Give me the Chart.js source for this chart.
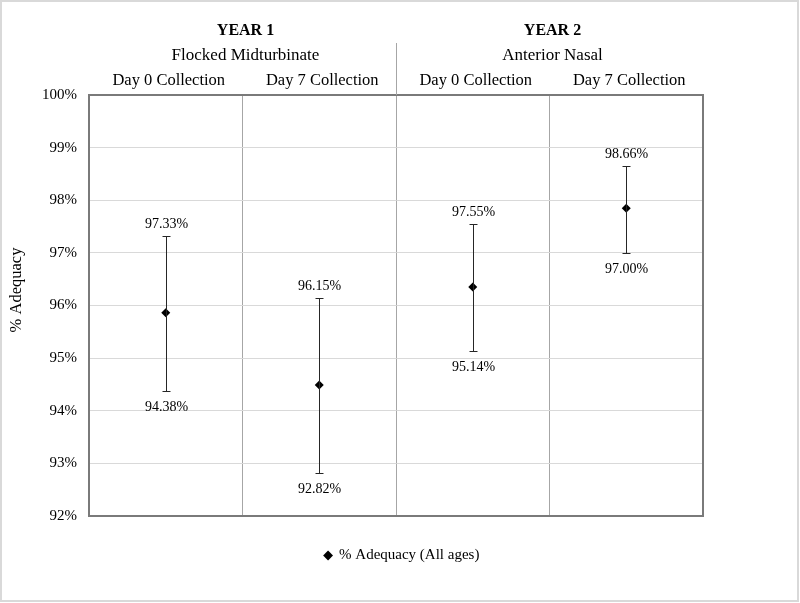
<!DOCTYPE html>
<html><head><meta charset="utf-8">
<script src="https://cdn.jsdelivr.net/npm/chart.js@4/dist/chart.umd.min.js"></script>
<style>html,body{margin:0;padding:0;background:#fff}#wrap{width:800px;height:603px;position:relative}</style>
</head><body><div id="wrap"><canvas id="c"></canvas></div>
<script>
const groups = ['YEAR 1', 'YEAR 2'];
const groupSubtitles = ['Flocked Midturbinate', 'Anterior Nasal'];
const categories = ['Day 0 Collection', 'Day 7 Collection', 'Day 0 Collection', 'Day 7 Collection'];
const adequacy = [95.86, 94.49, 96.35, 97.85];
const upperCI = [97.33, 96.15, 97.55, 98.66];
const lowerCI = [94.38, 92.82, 95.14, 97.00];
const yTicks = [92, 93, 94, 95, 96, 97, 98, 99, 100];
const seriesName = '% Adequacy (All ages)';
const yTitle = '% Adequacy';

const SERIF = '"Liberation Serif", "Times New Roman", serif';

const overlay = {
  id: 'overlay',
  afterLayout(chart) {
    if (chart.legend) { chart.legend.left += 101; }
  },
  beforeDraw(chart) {
    const ctx = chart.ctx;
    ctx.save();
    ctx.fillStyle = '#fff';
    ctx.fillRect(0, 0, chart.width, chart.height);
    ctx.restore();
  },
  afterDatasetsDraw(chart) {
    const ctx = chart.ctx, xs = chart.scales.x, ys = chart.scales.y;
    ctx.save();
    ctx.strokeStyle = '#262626';
    ctx.lineWidth = 1;
    ctx.fillStyle = '#000';
    ctx.font = '14px ' + SERIF;
    ctx.textAlign = 'center';
    ctx.textBaseline = 'middle';
    adequacy.forEach((v, i) => {
      const x = Math.round(xs.getPixelForValue(i + 0.5)) + 0.5;
      const yt = Math.round(ys.getPixelForValue(upperCI[i])) + 0.5;
      const yb = Math.round(ys.getPixelForValue(lowerCI[i])) + 0.5;
      ctx.beginPath();
      ctx.moveTo(x, yt); ctx.lineTo(x, yb);
      ctx.moveTo(x - 4, yt); ctx.lineTo(x + 4, yt);
      ctx.moveTo(x - 4, yb); ctx.lineTo(x + 4, yb);
      ctx.stroke();
      ctx.fillText(upperCI[i].toFixed(2) + '%', x, yt - 12);
      ctx.fillText(lowerCI[i].toFixed(2) + '%', x, yb + 16);
    });
    ctx.restore();
  },
  afterDraw(chart) {
    const ctx = chart.ctx, xs = chart.scales.x, ys = chart.scales.y, a = chart.chartArea;
    ctx.save();
    // plot frame
    ctx.strokeStyle = '#7a7a7a';
    ctx.lineWidth = 2;
    ctx.strokeRect(a.left, a.top, a.right - a.left, a.bottom - a.top);
    // group divider extending above plot
    const xm = Math.round(xs.getPixelForValue(2)) + 0.5;
    ctx.strokeStyle = '#a6a6a6';
    ctx.lineWidth = 1;
    ctx.beginPath(); ctx.moveTo(xm, 43); ctx.lineTo(xm, a.top); ctx.stroke();
    // headers
    ctx.fillStyle = '#000';
    ctx.textAlign = 'center';
    ctx.textBaseline = 'middle';
    groups.forEach((g, gi) => {
      const cx = (xs.getPixelForValue(gi * 2) + xs.getPixelForValue(gi * 2 + 2)) / 2 + 3;
      ctx.font = 'bold 16px ' + SERIF;
      ctx.fillText(g, cx, 31);
      ctx.font = '17px ' + SERIF;
      ctx.fillText(groupSubtitles[gi], cx, 56);
    });
    ctx.font = '16.5px ' + SERIF;
    categories.forEach((c, i) => {
      ctx.fillText(c, xs.getPixelForValue(i + 0.5) + 3, 81);
    });
    // y title
    ctx.save();
    ctx.translate(17, 290);
    ctx.rotate(-Math.PI / 2);
    ctx.font = '16.5px ' + SERIF;
    ctx.fillText(yTitle, 0, 0);
    ctx.restore();
    // outer border
    ctx.strokeStyle = '#d9d9d9';
    ctx.lineWidth = 2;
    ctx.strokeRect(1, 1, chart.width - 3, chart.height - 3);
    ctx.restore();
  }
};

new Chart(document.getElementById('c'), {
  type: 'line',
  data: {
    datasets: [{
      label: seriesName,
      data: adequacy.map((v, i) => ({ x: i + 0.5, y: v })),
      showLine: false,
      pointStyle: 'rectRot',
      pointRadius: 4.5,
      pointHoverRadius: 4.5,
      backgroundColor: '#000',
      borderColor: '#000',
      borderWidth: 0
    }]
  },
  options: {
    responsive: true,
    maintainAspectRatio: false,
    animation: false,
    devicePixelRatio: 1,
    layout: { padding: { top: 95, right: 97, bottom: 30, left: 0 } },
    plugins: {
      legend: {
        position: 'bottom',
        labels: {
          usePointStyle: true,
          pointStyle: 'rectRot',
          boxWidth: 7,
          boxHeight: 7,
          color: '#000',
          font: { family: SERIF, size: 15 }
        }
      },
      tooltip: { enabled: false }
    },
    scales: {
      x: {
        type: 'linear', min: 0, max: 4,
        ticks: { display: false, stepSize: 1 },
        grid: {
          drawTicks: false,
          color: c => (c.tick && c.tick.value > 0 && c.tick.value < 4) ? '#a6a6a6' : 'rgba(0,0,0,0)'
        },
        border: { color: '#7a7a7a', width: 2 },
        afterFit(s) { s.height = 22; }
      },
      y: {
        min: 92, max: 100,
        afterBuildTicks(s) { s.ticks = yTicks.map(v => ({ value: v })); },
        ticks: {
          padding: 12,
          color: '#000',
          font: { family: SERIF, size: 15 },
          callback: v => v + '%'
        },
        grid: { drawTicks: false, color: '#d9d9d9' },
        border: { color: '#7a7a7a', width: 2 },
        afterFit(s) { s.width = 89; }
      }
    }
  },
  plugins: [overlay]
});
</script>
</body></html>
